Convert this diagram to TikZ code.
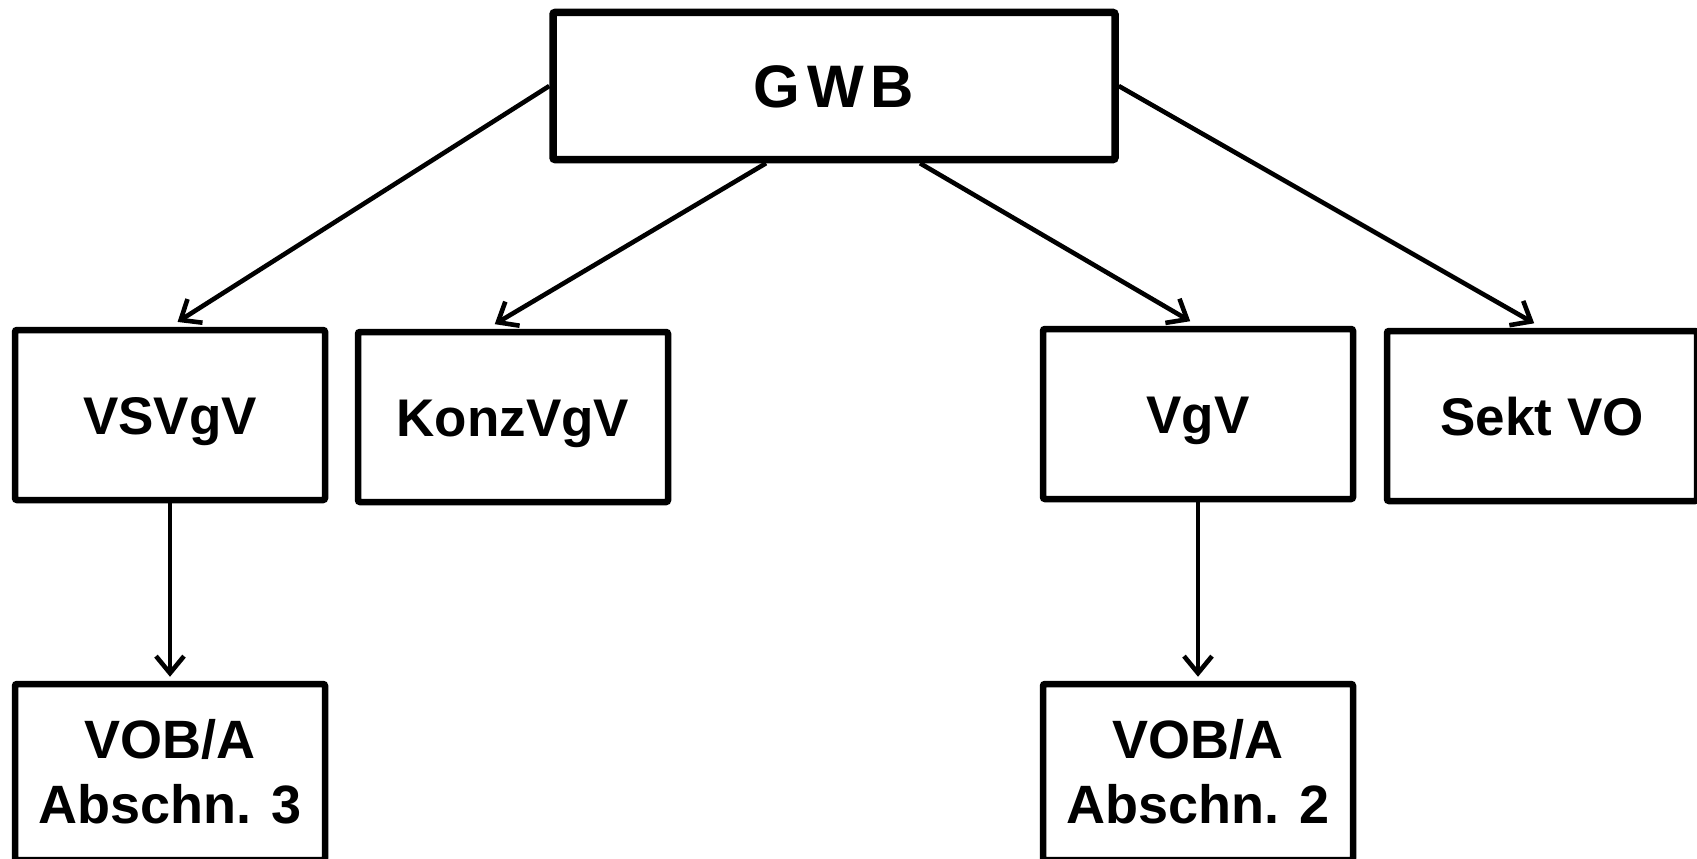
\documentclass[tikz,border=0pt]{standalone}
\usepackage{fontspec}
\setmainfont{Liberation Sans}
\usepackage{tikz}
\usetikzlibrary{arrows.meta, positioning}

\begin{document}
\begin{tikzpicture}[x=1pt, y=-1pt,
    box/.style={draw, line width=6.5pt, rounded corners=2pt, inner sep=0pt,
      minimum width=310pt, minimum height=170pt, align=center,
      font=\fontsize{53}{65}\selectfont\bfseries},
    oneline/.style={text height=38pt, text depth=0pt},
    line/.style={->, line width=4.6pt, >={Straight Barb[length=17pt, width=28pt]}}]
\useasboundingbox (0,0) rectangle (1697,859);
\node[box, oneline, line width=7.5pt, minimum width=562pt, minimum height=147pt,
  font=\fontsize{60}{70}\selectfont\bfseries, text height=43pt] (gwb) at (834,86) {G\kern7pt W\kern7pt B};
\node[box, oneline] (vsvgv) at (170,415) {VSVgV};
\node[box, oneline] (konz) at (513,417) {KonzVgV};
\node[box, oneline] (vgv) at (1198,414) {VgV};
\node[box, oneline] (sekt) at (1542,416) {Sekt VO};
\node[box, minimum height=176pt, font=\fontsize{54}{65}\selectfont\bfseries] (voba3) at (170,772) {VOB/A\\Abschn. 3};
\node[box, minimum height=176pt, font=\fontsize{54}{65}\selectfont\bfseries] (voba2) at (1198,772) {VOB/A\\Abschn. 2};
% Pfeile
\draw [line, shorten >=9pt] (gwb.west) -- (vsvgv.north);
\draw [line, shorten >=9pt] ([xshift=-68pt]gwb.south) -- ([xshift=-26pt]konz.north);
\draw [line, shorten >=9pt] ([xshift=86pt]gwb.south) -- (vgv.north);
\draw [line, shorten >=9pt] (gwb.east) -- (sekt.north);
\draw [line, shorten >=4pt] (vsvgv.south) -- (voba3.north);
\draw [line, shorten >=4pt] (vgv.south) -- (voba2.north);
\end{tikzpicture}
\end{document}
